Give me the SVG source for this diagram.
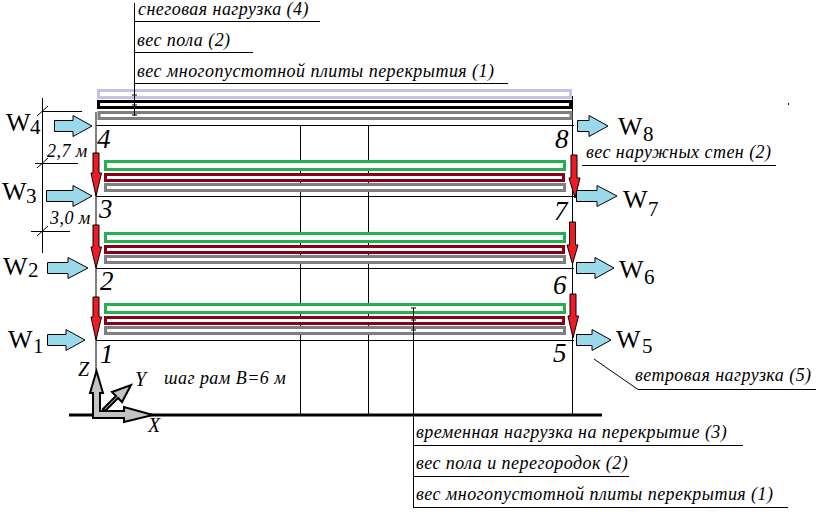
<svg xmlns="http://www.w3.org/2000/svg" width="824" height="516" viewBox="0 0 824 516">
<style>
text{font-family:"Liberation Serif","Times New Roman",serif;fill:#000}
.lbl{font-style:italic;font-size:18px;letter-spacing:.45px}
.num{font-style:italic;font-size:27px}
.w{font-size:26px}
.sub{font-size:21px}
.ax{font-style:italic;font-size:20px}
.l{stroke:#000;stroke-width:1;fill:none}
.g{stroke:#000;stroke-width:3;fill:none}
.wind{fill:#99d9ea;stroke:#000;stroke-width:1}
.red{fill:#ed1c24;stroke:#000;stroke-width:1}
.slab{fill:#fff;stroke-width:3}
.lav{stroke:#c8bfe7}.blk{stroke:#000}.gry{stroke:#7f7f7f}.grn{stroke:#22b14c}.mar{stroke:#880015}
.axis{fill:#c3c3c3;stroke:#000;stroke-width:2;stroke-linejoin:miter}
</style>
<rect width="824" height="516" fill="#fff"/>
<g id="frame">
<path class="l" d="M96 112V418M572.500 96V415M300.500 125V415M368.500 125V415M96 125.500H574M96 196.500H574M96 268.500H574M96 340.500H574"/>
<path class="g" d="M69 415H602"/>
</g>
<g id="slabs">
<rect class="slab lav" x="98.500" y="90.500" width="472" height="7"/>
<rect class="slab blk" x="98.500" y="101.500" width="472" height="6"/>
<rect class="slab gry" x="99" y="112.500" width="472" height="6"/>
<rect class="slab grn" x="105.500" y="161.500" width="459" height="8"/>
<rect class="slab mar" x="105.500" y="174.500" width="458" height="6"/>
<rect class="slab gry" x="105.500" y="184.500" width="459" height="6"/>
<rect class="slab grn" x="105.500" y="233.500" width="459" height="8"/>
<rect class="slab mar" x="105.500" y="246.500" width="458" height="6"/>
<rect class="slab gry" x="105.500" y="256.500" width="459" height="6"/>
<rect class="slab grn" x="105.500" y="304.500" width="459" height="8"/>
<rect class="slab mar" x="105.500" y="317.500" width="458" height="6"/>
<rect class="slab gry" x="105.500" y="327.500" width="459" height="6"/>
</g>
<g id="red-arrows">
<polygon class="red" points="93,153 99,153 99,173 101.500,173 96,196 91,173 93,173"/>
<polygon class="red" points="93,225 99,225 99,247 101.500,247 96,268 91,247 93,247"/>
<polygon class="red" points="93,297 99,297 99,317 101.500,317 96,340 91,317 93,317"/>
<polygon class="red" points="571,155 577,155 577,178 580,178 575,198 569,178 571,178"/>
<polygon class="red" points="569.500,222 575.500,222 575.500,245 578,245 572.500,264 567,245 569.500,245"/>
<polygon class="red" points="570,294 576,294 576,316 578.500,316 573,338 568,316 570,316"/>
</g>
<g id="wind-arrows">
<polygon class="wind" points="54.500,120.500 73,120.500 73,115.500 92,126 73,136.500 73,131.500 54.500,131.500"/>
<polygon class="wind" points="46.500,190.500 73,190.500 73,185.500 92,196 73,206.500 73,201.500 46.500,201.500"/>
<polygon class="wind" points="47.500,262.500 68,262.500 68,257.500 88,268 68,278.500 68,273.500 47.500,273.500"/>
<polygon class="wind" points="47.500,334.500 66,334.500 66,329.500 85,340 66,350.500 66,345.500 47.500,345.500"/>
<polygon class="wind" points="577.500,120.500 589,120.500 589,115.500 608,126 589,136.500 589,131.500 577.500,131.500"/>
<polygon class="wind" points="576.500,190.500 597,190.500 597,185.500 617,196 597,206.500 597,201.500 576.500,201.500"/>
<polygon class="wind" points="576.500,262.500 595,262.500 595,257.500 614,268 595,278.500 595,273.500 576.500,273.500"/>
<polygon class="wind" points="576.500,334.500 592,334.500 592,329.500 611,340 592,350.500 592,345.500 576.500,345.500"/>
</g>
<g id="wind-labels">
<text class="w" x="6" y="131">W</text><text class="sub" x="30" y="134">4</text>
<text class="w" x="2" y="200">W</text><text class="sub" x="26" y="203">3</text>
<text class="w" x="3" y="275">W</text><text class="sub" x="28" y="277">2</text>
<text class="w" x="8" y="348">W</text><text class="sub" x="33" y="353">1</text>
<text class="w" x="618" y="135">W</text><text class="sub" x="643" y="141">8</text>
<text class="w" x="623" y="208">W</text><text class="sub" x="648" y="216">7</text>
<text class="w" x="619" y="278">W</text><text class="sub" x="644" y="284">6</text>
<text class="w" x="616" y="348">W</text><text class="sub" x="642" y="353">5</text>
</g>
<g id="node-numbers">
<text class="num" x="97" y="148">4</text>
<text class="num" x="99" y="218">3</text>
<text class="num" x="100" y="290">2</text>
<text class="num" x="100" y="363">1</text>
<text class="num" x="555" y="148">8</text>
<text class="num" x="554" y="220">7</text>
<text class="num" x="553" y="294">6</text>
<text class="num" x="553" y="362">5</text>
</g>
<g id="top-leader">
<path class="l" d="M134.500 3V116M134 21.500H320M134 52.500H253M134 83.500H508M132 95H137M132 105H137M132 115H137"/>
<text class="lbl" x="138" y="15">снеговая нагрузка (4)</text>
<text class="lbl" x="137" y="46">вес пола (2)</text>
<text class="lbl" x="137" y="77">вес многопустотной плиты перекрытия (1)</text>
</g>
<g id="floor-leader">
<path class="l" d="M413.500 308V507M413 445.500H743M413 476.500H629M413 507.500H788M411 308H416M411 320H416M411 330H416"/>
<text class="lbl" x="416" y="438">временная нагрузка на перекрытие (3)</text>
<text class="lbl" x="416" y="469">вес пола и перегородок (2)</text>
<text class="lbl" x="416" y="500">вес многопустотной плиты перекрытия (1)</text>
</g>
<g id="wall-leader">
<path class="l" d="M582 165.500H776"/>
<text class="lbl" x="586" y="158">вес наружных стен (2)</text>
</g>
<g id="wind-leader">
<path class="l" d="M594 359L638 389.500H816"/>
<text class="lbl" x="635" y="381">ветровая нагрузка (5)</text>
</g>
<g id="dimensions">
<path class="l" d="M42.500 98V253M42 111.500H82M35 163.500H78M31 231.500H70M37 116L48 106M37 168L48 158M37 236L48 226"/>
<text class="lbl" x="47" y="157">2,7 м</text>
<text class="lbl" x="50" y="224">3,0 м</text>
</g>
<g id="axes">
<polygon class="axis" points="103,409 116,396 112,392 131,385 122,402 118,398 105,411"/>
<polygon class="axis" points="93,418 93,393 90,393 96.500,371 103,393 100,393 100,411 124,411 124,407 153,415 124,422 124,418"/>
<text class="ax" x="78" y="376">Z</text>
<text class="ax" x="135" y="386">Y</text>
<text class="ax" x="148" y="432">X</text>
<text class="lbl" x="164" y="384">шаг рам В=6 м</text>
</g>
<rect x="788" y="103" width="1" height="2" fill="#000"/>
</svg>
